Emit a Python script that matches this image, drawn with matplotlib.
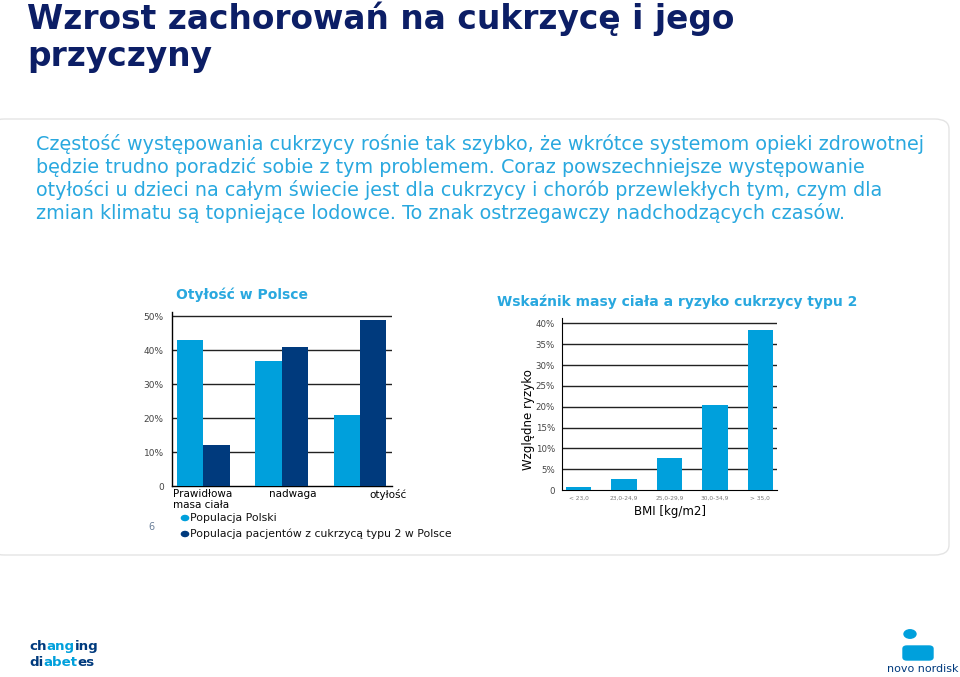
import matplotlib
matplotlib.use("Agg")
import matplotlib.pyplot as plt
import numpy as np
from matplotlib.patches import FancyBboxPatch, Circle

# Data
left_title = "Otyłość w Polsce"
left_categories = ["Prawidłowa\nmasa ciała", "nadwaga", "otyłość"]
left_series_names = ["Populacja Polski", "Populacja pacjentów z cukrzycą typu 2 w Polsce"]
poland_pop = [43, 37, 21]
diabetes_pop = [12, 41, 49]
left_yticks = [0, 10, 20, 30, 40, 50]
left_yticklabels = ["0", "10%", "20%", "30%", "40%", "50%"]

right_title = "Wskaźnik masy ciała a ryzyko cukrzycy typu 2"
bmi_categories = ["< 23,0", "23,0-24,9", "25,0-29,9", "30,0-34,9", "> 35,0"]
relative_risk = [0.8, 2.7, 7.7, 20.5, 38.5]
right_yticks = [0, 5, 10, 15, 20, 25, 30, 35, 40]
right_yticklabels = ["0", "5%", "10%", "15%", "20%", "25%", "30%", "35%", "40%"]

title_lines = ["Wzrost zachorowań na cukrzycę i jego", "przyczyny"]
paragraph = [
    "Częstość występowania cukrzycy rośnie tak szybko, że wkrótce systemom opieki zdrowotnej",
    "będzie trudno poradzić sobie z tym problemem. Coraz powszechniejsze występowanie",
    "otyłości u dzieci na całym świecie jest dla cukrzycy i chorób przewlekłych tym, czym dla",
    "zmian klimatu są topniejące lodowce. To znak ostrzegawczy nadchodzących czasów.",
]

LIGHT = "#00a0dc"
DARK = "#003a7d"
NAVY = "#0c1e66"
TEXTBLUE = "#29a8df"

W, H = 960, 677
fig = plt.figure(figsize=(W / 100, H / 100), dpi=100)
plt.rcParams['font.family'] = ['DejaVu Sans']


def fx(x):
    return x / W


def fy(y):
    return 1 - y / H


def px_axes(l, t, r, b):
    return fig.add_axes([fx(l), fy(b), (r - l) / W, (b - t) / H])


# Background box (behind the charts)
box = FancyBboxPatch((fx(-10), fy(555)), fx(959), (555 - 119) / H,
                     boxstyle="round,pad=0,rounding_size=0.015",
                     transform=fig.transFigure, facecolor="white",
                     edgecolor="#e4e4e4", linewidth=1.0, zorder=-10)
fig.patches.append(box)

# Title
fig.text(fx(27), fy(29), title_lines[0], fontsize=23.7, fontweight="bold",
         color=NAVY, va="baseline")
fig.text(fx(27), fy(66), title_lines[1], fontsize=23.7, fontweight="bold",
         color=NAVY, va="baseline")

# Paragraph
for i, line in enumerate(paragraph):
    fig.text(fx(36), fy(150 + i * 23), line, fontsize=13.8, color=TEXTBLUE,
             va="baseline")

# Left chart
ax1 = px_axes(172, 312, 392, 486)
x = np.arange(len(left_categories))
bw = 0.335
ax1.bar(x - bw / 2, poland_pop, bw, color=LIGHT, zorder=3)
ax1.bar(x + bw / 2, diabetes_pop, bw, color=DARK, zorder=3)
ax1.set_xlim(-0.4, 2.41)
ax1.set_ylim(0, 51.3)
ax1.set_yticks(left_yticks)
ax1.set_yticklabels(left_yticklabels)
ax1.set_xticks([])
for v in left_yticks[1:]:
    ax1.axhline(v, color="#222222", linewidth=1.0, zorder=1)
for s in ["top", "right"]:
    ax1.spines[s].set_visible(False)
ax1.spines["left"].set_linewidth(1.0)
ax1.spines["bottom"].set_linewidth(1.0)
ax1.tick_params(axis="y", length=0, labelsize=6.5, labelcolor="#444444", pad=6)
ax1.text(-0.39, -0.9, left_categories[0], fontsize=7.5, va="top", ha="left",
         linespacing=1.1)
ax1.text(1.145, -0.9, left_categories[1], fontsize=7.5, va="top", ha="center")
ax1.text(2.36, -0.9, left_categories[2], fontsize=7.5, va="top", ha="center")
fig.text(fx(176), fy(299), left_title, fontsize=10, fontweight="bold",
         color=TEXTBLUE, va="baseline")

# Left legend
for i, (name, col) in enumerate(zip(left_series_names, [LIGHT, DARK])):
    yy = 518 + i * 16
    fig.patches.append(Circle((fx(185), fy(yy)), 3.6 / W, color=col,
                              transform=fig.transFigure))
    fig.text(fx(190), fy(yy), name, fontsize=7.8, va="center", color="#111111")
fig.text(fx(148), fy(527), "6", fontsize=7, color="#6a7f99", va="center")

# Right chart
ax2 = px_axes(562, 318, 777, 490)
xb = np.arange(len(bmi_categories))
ax2.bar(xb, relative_risk, 0.56, color=LIGHT, zorder=3)
ax2.set_xlim(-0.37, 4.37)
ax2.set_ylim(0, 41.3)
ax2.set_yticks(right_yticks)
ax2.set_yticklabels(right_yticklabels)
ax2.set_xticks(xb)
ax2.set_xticklabels(bmi_categories)
for v in right_yticks[1:]:
    ax2.axhline(v, color="#222222", linewidth=1.0, zorder=1)
for s in ["top", "right"]:
    ax2.spines[s].set_visible(False)
ax2.tick_params(axis="y", length=0, labelsize=6.2, labelcolor="#444444", pad=5)
ax2.tick_params(axis="x", length=0, labelsize=4.2, labelcolor="#777777", pad=4)
ax2.set_ylabel("Względne ryzyko", fontsize=8.5)
ax2.yaxis.set_label_coords(-0.125, 0.41)
ax2.set_xlabel("BMI [kg/m2]", fontsize=8.5, labelpad=3)
fig.text(fx(497), fy(306), right_title, fontsize=10, fontweight="bold",
         color=TEXTBLUE, va="baseline")

# Logos
renderer = fig.canvas.get_renderer()
logo_lines = [[("ch", DARK), ("ang", LIGHT), ("ing", DARK)],
              [("di", DARK), ("abet", LIGHT), ("es", DARK)]]
for j, parts in enumerate(logo_lines):
    xpos = 29
    for word, col in parts:
        t = fig.text(fx(xpos), fy(650 + j * 15.5), word, fontsize=9.6,
                     fontweight="bold", color=col, va="baseline")
        xpos += t.get_window_extent(renderer).width + 0.2

fig.patches.append(Circle((fx(910), fy(634)), 6 / W, color=LIGHT,
                          transform=fig.transFigure))
fig.patches.append(FancyBboxPatch((fx(903), fy(660)), 30 / W, 14 / H,
                                  boxstyle="round,pad=0,rounding_size=0.004",
                                  transform=fig.transFigure, color=LIGHT))
fig.text(fx(923), fy(672), "novo nordisk", fontsize=8, color=DARK, ha="center",
         va="baseline")

fig.savefig("out.png", dpi=100)
